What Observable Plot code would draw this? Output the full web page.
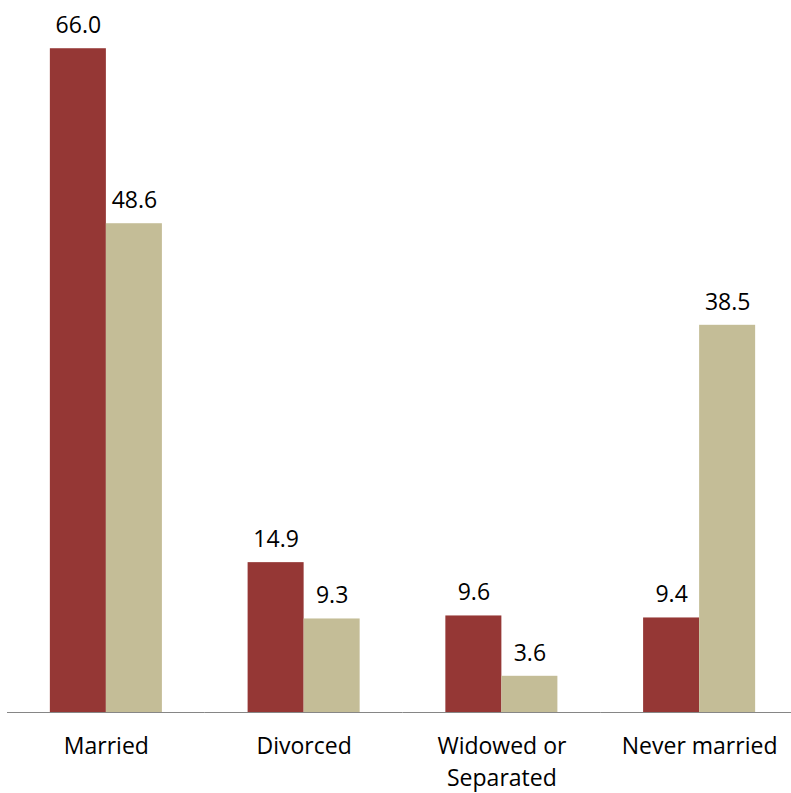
<!DOCTYPE html>
<html>
<head>
<meta charset="utf-8">
<script src="https://cdn.jsdelivr.net/npm/d3@7"></script>
<script src="https://cdn.jsdelivr.net/npm/@observablehq/plot@0.6"></script>
<style>
  html, body { margin: 0; padding: 0; background: #fff; }
</style>
</head>
<body>
<div id="chart"></div>
<script>
const categories = ["Married", "Divorced", "Widowed or Separated", "Never married"];
const categoryLabels = ["Married", "Divorced", "Widowed or\nSeparated", "Never married"];
const seriesNames = ["Series 1", "Series 2"];
const series1Values = [66.0, 14.9, 9.6, 9.4];
const series2Values = [48.6, 9.3, 3.6, 38.5];
const seriesColors = ["#953735", "#C4BD97"];

const data = [];
categories.forEach((c, i) => {
  data.push({category: c, series: seriesNames[0], value: series1Values[i]});
  data.push({category: c, series: seriesNames[1], value: series2Values[i]});
});

const chart = Plot.plot({
  width: 791,
  height: 793,
  marginTop: 8,
  marginBottom: 81,
  marginLeft: 7,
  marginRight: 0,
  style: {fontFamily: "'Open Sans', sans-serif", fontSize: "23px", color: "#000", background: "#fff"},
  fx: {
    domain: categories,
    range: [7, 798],
    padding: 0,
    round: false,
    label: null
  },
  x: {domain: seriesNames, paddingInner: 0, paddingOuter: 0.765, round: false, axis: null},
  y: {domain: [0, 70], axis: null},
  color: {domain: seriesNames, range: seriesColors},
  marks: [
    Plot.barY(data, {fx: "category", x: "series", y: "value", fill: "series", inset: 0}),
    Plot.text(data, {
      fx: "category", x: "series", y: "value",
      text: (d) => d.value.toFixed(1),
      dy: -23, fontSize: 23, fill: "#000", textAnchor: "middle"
    }),
    Plot.ruleY([0], {stroke: "#868686", strokeWidth: 1.2}),
    Plot.axisFx({
      anchor: "bottom",
      tickSize: 0,
      tickPadding: 19,
      fontSize: 23,
      lineHeight: 1.39,
      fill: "#000",
      label: null,
      tickFormat: (d) => categoryLabels[categories.indexOf(d)]
    })
  ]
});

document.getElementById("chart").appendChild(chart);
</script>
</body>
</html>
